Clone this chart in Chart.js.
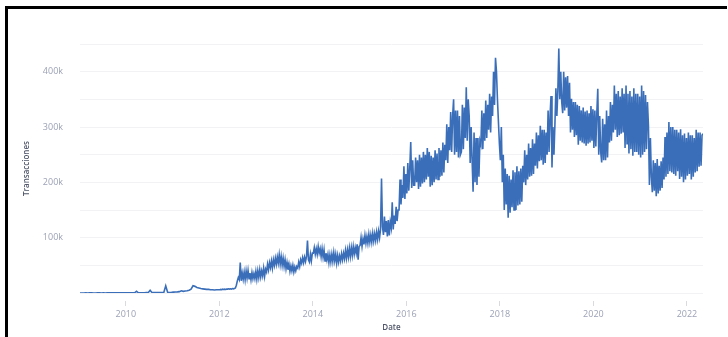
<!DOCTYPE html>
<html>
<head>
<meta charset="utf-8">
<script src="https://cdn.jsdelivr.net/npm/chart.js@4.4.1/dist/chart.umd.min.js"></script>
<style>
  html, body { margin: 0; padding: 0; background: #fff; overflow: hidden; }
  #wrap { position: relative; width: 728px; height: 337px; }
  #frame { position: absolute; left: 5px; top: 6px; right: 1px; bottom: -5px;
           border-top: 3px solid #000; border-left: 3px solid #000; pointer-events: none; }
</style>
</head>
<body>
<div id="wrap"><canvas id="txChart"></canvas><div id="frame"></div></div>
<script>
// transactions per day, in thousands
// 2009-2011: two readings per month, from 2012: four readings per month (weekly)
var tx2009 = [0.1,0.1, 0.1,0.2, 0.1,0.2, 0.2,0.1, 0.1,0.2, 0.2,0.1, 0.2,0.1, 0.2,0.2, 0.2,0.2, 0.2,0.3, 0.2,0.2, 0.3,0.2];
var tx2010 = [0.3,0.3, 0.3,0.4, 0.4,3, 0.4,0.5, 0.5,0.5, 0.6,0.6, 5,0.6, 0.7,0.7, 0.8,0.8, 0.9,0.9, 13,1, 1,1.2];
var tx2011 = [1.5,1.8, 2,2.5, 4,3, 3.5,4, 5,7, 13,12, 10,9, 8,7.5, 7,6.5, 6.5,6, 6,5.5, 6,6];
var tx2012 = [6,6.5,6,7, 6.5,7,6.5,7, 7,7.5,7,7.5, 7,8,7.5,8, 9,14,22,28, 24,55,22,36,
              25,38,24,40, 27,41,26,36, 24,37,26,35, 26,39,25,40, 28,42,29,40, 31,45,30,43];
var tx2013 = [38,52,42,55, 46,58,45,60, 50,63,52,65, 54,69,52,66, 50,63,48,60, 44,55,42,52,
              39,49,40,50, 38,47,40,48, 45,56,48,60, 54,64,55,65, 57,66,95,60, 56,70,58,72];
var tx2014 = [72,82,70,80, 70,84,72,80, 66,80,65,78, 58,72,60,70, 55,69,56,70, 57,73,58,70,
              54,68,56,67, 58,71,60,72, 62,77,63,78, 65,81,66,82, 68,84,70,82, 72,88,60,84];
var tx2015 = [86,100,84,98, 88,104,90,102, 90,106,92,105, 92,108,94,107, 95,110,97,112, 100,115,207,120,
              105,138,110,130, 102,132,104,128, 118,164,115,140, 125,156,130,150, 150,205,160,195, 172,229,170,215];
var tx2016 = [180,235,185,225, 273,190,240,195, 195,245,200,240, 188,250,192,245, 198,255,200,250, 205,262,210,255,
              192,248,195,245, 200,258,205,252, 205,262,210,258, 212,272,218,268, 240,305,235,300, 258,327,255,320];
var tx2017 = [350,250,330,255, 330,245,320,250, 255,340,260,335, 280,372,275,350, 320,235,300,240, 183,290,200,280,
              195,280,210,275, 268,330,260,325, 275,348,280,340, 295,360,290,355, 320,400,340,425, 400,350,310,270];
var tx2018 = [240,300,200,250, 150,225,160,215, 136,212,145,205, 155,222,150,218, 150,229,158,220, 160,225,165,230,
              200,258,195,250, 205,270,210,262, 212,278,215,270, 230,290,225,285, 238,302,240,295, 232,295,235,290];
var tx2019 = [250,330,255,320, 356,227,300,250, 305,370,320,365, 442,350,400,345, 325,400,330,390, 335,392,320,380,
              290,351,295,345, 282,345,285,340, 268,338,275,330, 272,335,270,328, 266,330,270,325, 272,338,275,332];
var tx2020 = [262,330,265,325, 369,250,320,255, 236,315,240,305, 240,330,245,320, 272,345,275,340, 290,375,295,360,
              282,365,285,355, 288,370,290,360, 262,375,270,360, 252,365,260,355, 248,370,255,360, 255,360,250,355];
var tx2021 = [245,375,250,365, 255,358,260,345, 302,195,280,210, 182,240,185,235, 175,242,180,230, 185,238,190,245,
              205,282,210,290, 215,309,220,300, 218,300,215,295, 212,295,220,290, 206,296,210,285, 200,288,205,280];
var tx2022 = [212,290,215,285, 205,285,210,280, 218,295,220,290, 228,290,230,285, 288];

var years = [2009, 2010, 2011, 2012, 2013, 2014, 2015, 2016, 2017, 2018, 2019, 2020, 2021, 2022];
var readingsPerYear = [24, 24, 24, 48, 48, 48, 48, 48, 48, 48, 48, 48, 48, 48];
var series = [tx2009, tx2010, tx2011, tx2012, tx2013, tx2014, tx2015, tx2016, tx2017, tx2018, tx2019, tx2020, tx2021, tx2022];
var yearTicks = [2010, 2012, 2014, 2016, 2018, 2020, 2022];

var points = [];
years.forEach(function (yr, k) {
  series[k].forEach(function (v, i) {
    points.push({ x: yr + (i + 0.5) / readingsPerYear[k], y: v });
  });
});

var tickFont = { family: "'Open Sans', sans-serif", size: 9 };
var titleFont = { family: "'Open Sans', sans-serif", size: 8, weight: '600' };

new Chart(document.getElementById('txChart'), {
  type: 'line',
  data: {
    datasets: [{
      label: 'Transacciones',
      data: points,
      borderColor: 'rgb(58,110,185)',
      borderWidth: 1.6,
      pointRadius: 0,
      tension: 0,
      fill: false
    }]
  },
  options: {
    responsive: true,
    maintainAspectRatio: false,
    animation: false,
    layout: { padding: { left: 18, right: 25, top: 44, bottom: 0 } },
    plugins: { legend: { display: false }, tooltip: { enabled: false } },
    scales: {
      x: {
        type: 'linear',
        min: points[0].x,
        max: points[points.length - 1].x,
        afterBuildTicks: function (scale) {
          scale.ticks = yearTicks.map(function (v) { return { value: v }; });
        },
        afterFit: function (scale) { scale.height = 44; },
        border: { display: false },
        grid: {
          drawOnChartArea: false,
          drawTicks: true,
          tickLength: 13,
          tickColor: '#d9d9de',
          tickBorderDash: [0, 8, 5, 20]
        },
        ticks: {
          autoSkip: false,
          maxRotation: 0,
          padding: 3,
          color: '#9ca2b6',
          font: tickFont,
          callback: function (v) { return String(v); }
        },
        title: { display: true, text: 'Date', color: '#50566a', font: titleFont, padding: { top: 2, bottom: 4 } }
      },
      y: {
        min: 0,
        max: 450,
        afterFit: function (scale) { scale.width = 62; },
        border: { display: false },
        grid: { color: '#f2f2f4', drawTicks: false },
        ticks: {
          stepSize: 50,
          padding: 17,
          color: '#9ca2b6',
          font: tickFont,
          callback: function (v) { return (v > 0 && v % 100 === 0) ? v + 'k' : ''; }
        },
        title: { display: true, text: 'Transacciones', color: '#50566a', font: titleFont, padding: { top: 4, bottom: 4 } }
      }
    }
  }
});
</script>
</body>
</html>
